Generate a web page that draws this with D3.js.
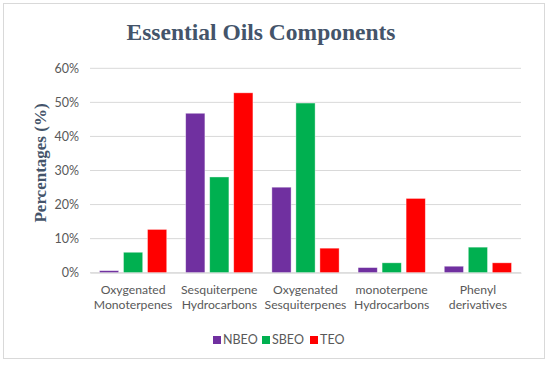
<!DOCTYPE html>
<html><head><meta charset="utf-8">
<script src="https://cdn.jsdelivr.net/npm/d3@7"></script>
<style>body{margin:0;background:#fff}</style>
</head><body>
<script>
const categories = [["Oxygenated","Monoterpenes"],["Sesquiterpene","Hydrocarbons"],["Oxygenated","Sesquiterpenes"],["monoterpene","Hydrocarbons"],["Phenyl","derivatives"]];
const seriesNames = ["NBEO","SBEO","TEO"];
const NBEO = [0.6, 46.8, 25.1, 1.5, 1.9];
const SBEO = [6.0, 28.1, 49.8, 2.9, 7.5];
const TEO = [12.7, 52.8, 7.2, 21.8, 2.9];
const yTicks = [0,10,20,30,40,50,60];
const colors = ["#7030A0","#00B050","#FF0000"];
const seriesValues = [NBEO, SBEO, TEO];

const W = 550, H = 365;
const svg = d3.select("body").append("svg").attr("width", W).attr("height", H);
svg.append("rect").attr("x",3.5).attr("y",3.5).attr("width",541).attr("height",355)
  .attr("fill","#fff").attr("stroke","#d9d9d9");

const x0 = d3.scaleBand().domain(d3.range(categories.length)).range([90,521]).paddingInner(0.22).paddingOuter(0.11);
const x1 = d3.scaleBand().domain(d3.range(seriesNames.length)).range([0, x0.bandwidth()]).paddingInner(0.2);
const y = d3.scaleLinear().domain([0,60]).range([272.7,68.3]);

svg.append("g").selectAll("line").data(yTicks).join("line")
  .attr("x1",90).attr("x2",521).attr("y1",d=>y(d)).attr("y2",d=>y(d))
  .attr("stroke","#d9d9d9").attr("stroke-width",1);

const yAxis = d3.axisLeft(y).tickValues(yTicks).tickFormat(d=>d+"%").tickSize(0).tickPadding(0);
const ya = svg.append("g").attr("transform","translate(79,0)").call(yAxis);
ya.select(".domain").remove();
ya.selectAll("text").attr("fill","#595959").style("font-family","Lato, 'Open Sans', sans-serif").style("font-size","12.5px");

const groups = svg.append("g").selectAll("g").data(categories).join("g")
  .attr("transform",(d,i)=>`translate(${x0(i)},0)`);
groups.selectAll("rect").data((d,i)=>seriesValues.map((s,k)=>({k, v:s[i]}))).join("rect")
  .attr("x",d=>x1(d.k)).attr("width",x1.bandwidth())
  .attr("y",d=>y(d.v)).attr("height",d=>y(0)-y(d.v))
  .attr("fill",d=>colors[d.k]).attr("stroke","#fff").attr("stroke-opacity",0.5).attr("stroke-width",0.75);

const xAxis = d3.axisBottom(x0).tickSize(0).tickFormat("");
svg.append("g").attr("transform",`translate(0,${y(0)})`).call(xAxis).select(".domain").attr("stroke","#d9d9d9");
svg.append("g").selectAll("text").data(categories).join("text")
  .attr("x",(d,i)=>x0(i)+x0.bandwidth()/2).attr("y",294)
  .attr("text-anchor","middle").attr("fill","#595959")
  .style("font-family","Lato, 'Open Sans', sans-serif").style("font-size","12.2px")
  .selectAll("tspan").data(d=>d).join("tspan")
  .attr("x",function(){return d3.select(this.parentNode).attr("x");})
  .attr("dy",(d,i)=>i===0?0:15).text(d=>d);

svg.append("text").attr("x",261).attr("y",40).attr("text-anchor","middle")
  .attr("fill","#44546A").style("font-family","'Liberation Serif', serif").style("font-weight","bold").style("font-size","23.5px")
  .text("Essential Oils Components");

svg.append("text").attr("transform","translate(46,163) rotate(-90)").attr("text-anchor","middle")
  .attr("fill","#44546A").style("font-family","'Liberation Serif', serif").style("font-weight","bold").style("font-size","17px")
  .text("Percentages (%)");

const legX = [213, 262, 310];
const leg = svg.append("g").selectAll("g").data(seriesNames).join("g")
  .attr("transform",(d,i)=>`translate(${legX[i]},336)`);
leg.append("rect").attr("width",8).attr("height",8).attr("fill",(d,i)=>colors[i]);
leg.append("text").attr("x",10).attr("y",8).attr("fill","#595959")
  .style("font-family","Lato, 'Open Sans', sans-serif").style("font-size","12.5px").text(d=>d);
</script>
</body></html>
